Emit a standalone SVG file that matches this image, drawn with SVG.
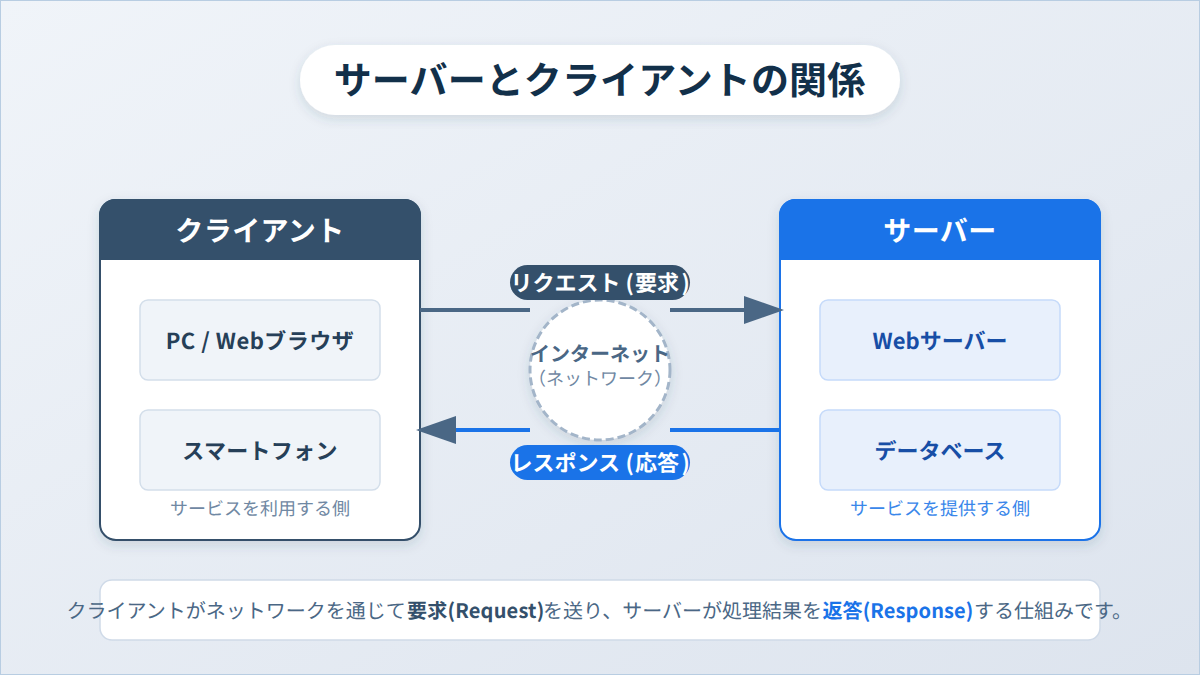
<svg xmlns="http://www.w3.org/2000/svg" width="1200" height="675" viewBox="0 0 1200 675">
<style>
text{font-family:"Noto Sans CJK JP",sans-serif;text-anchor:middle;text-rendering:geometricPrecision}
.b{font-weight:700}
.item{font-size:22px;font-weight:700}
.head{font-size:28px;font-weight:700;fill:#fff;letter-spacing:.4px}
.sub{font-size:18px}
.pill{font-size:22px;font-weight:700;fill:#fff;text-anchor:start}
.st{text-anchor:start}
.c{fill:#f0f4f9;stroke:#d3deea;stroke-width:1.5}
.s{fill:#e8f0fc;stroke:#c5dafa;stroke-width:1.5}
</style>
<defs>
<linearGradient id="bg" x1="0" y1="0" x2="1" y2="1"><stop offset="0" stop-color="#f0f4f9"/><stop offset="1" stop-color="#dde4ee"/></linearGradient>
<filter id="sh" x="-20%" y="-20%" width="140%" height="140%"><feDropShadow dx="0" dy="4" stdDeviation="6" flood-color="#34495e" flood-opacity=".15"/></filter>
<marker id="ah" markerUnits="userSpaceOnUse" markerWidth="40" markerHeight="28" refX="6" refY="14" orient="auto-start-reverse" overflow="visible"><path d="M0 0L40 14L0 28Z" fill="#4a6785"/></marker>
</defs>
<rect x="0.5" y="0.5" width="1199" height="674" fill="url(#bg)" stroke="#b8cde2"/>
<g id="title"><rect x="300" y="45" width="600" height="70" rx="35" fill="#fff" filter="url(#sh)"/><text x="599.5" y="94" font-size="38" class="b" fill="#12304a" letter-spacing=".1">サーバーとクライアントの関係</text></g>
<g id="client">
<rect x="100" y="200" width="320" height="340" rx="16" fill="#fff" stroke="#34506b" stroke-width="2" filter="url(#sh)"/>
<path d="M99 260V215a16 16 0 0 1 16-16H405a16 16 0 0 1 16 16V260Z" fill="#34506b"/>
<text x="260" y="241" class="head">クライアント</text>
<text x="260" y="515" class="sub" fill="#7088a3">サービスを利用する側</text>
</g>
<g id="client-pc"><rect x="140" y="300" width="240" height="80" rx="8" class="c"/><text x="260" y="349" class="item" fill="#263f58" letter-spacing=".5">PC / Webブラウザ</text></g>
<g id="client-phone"><rect x="140" y="410" width="240" height="80" rx="8" class="c"/><text x="260" y="459" class="item" fill="#263f58" letter-spacing=".3">スマートフォン</text></g>
<g id="server">
<rect x="780" y="200" width="320" height="340" rx="16" fill="#fff" stroke="#1a73e8" stroke-width="2" filter="url(#sh)"/>
<path d="M779 260V215a16 16 0 0 1 16-16H1085a16 16 0 0 1 16 16V260Z" fill="#1a73e8"/>
<text x="940" y="241" class="head">サーバー</text>
<text x="940" y="515" class="sub" fill="#3a87ea">サービスを提供する側</text>
</g>
<g id="server-web"><rect x="820" y="300" width="240" height="80" rx="8" class="s"/><text x="940" y="349" class="item" fill="#174ea6">Webサーバー</text></g>
<g id="server-db"><rect x="820" y="410" width="240" height="80" rx="8" class="s"/><text x="940" y="459" class="item" fill="#174ea6">データベース</text></g>
<g id="connectors">
<path d="M420 310H530" stroke="#4a6785" stroke-width="4" fill="none"/>
<path d="M670 310H750" stroke="#4a6785" stroke-width="4" fill="none" marker-end="url(#ah)"/>
<path d="M780 430H670" stroke="#1a73e8" stroke-width="4" fill="none"/>
<path d="M530 430H450" stroke="#1a73e8" stroke-width="4" fill="none" marker-end="url(#ah)"/>
</g>
<g id="internet"><circle cx="600" cy="370" r="70" fill="#fff" stroke="#a3b5c9" stroke-width="3" stroke-dasharray="8 4" filter="url(#sh)"/>
<text x="600" y="361" font-size="20" class="b" fill="#4a6785">インターネット</text>
<text x="600" y="385" font-size="18" fill="#7088a3">（ネットワーク）</text></g>
<g id="label-request"><rect x="510" y="265" width="180" height="35" rx="17.5" fill="#34506b"/><text x="510.5" y="291" class="pill">リクエスト<tspan x="625.5">(</tspan><tspan x="635">要求</tspan><tspan x="681.5">)</tspan></text></g>
<g id="label-response"><rect x="510" y="445" width="180" height="35" rx="17.5" fill="#1a73e8"/><text x="510.5" y="471" class="pill">レスポンス<tspan x="625.5">(</tspan><tspan x="635">応答</tspan><tspan x="681.5">)</tspan></text></g>
<g id="note"><rect x="100" y="580" width="1000" height="60" rx="12" fill="#fff" stroke="#cfdae8" stroke-width="1.5"/>
<text x="66.5" y="618" font-size="20" fill="#4a6785" class="st">クライアントがネットワークを通じて<tspan x="407" class="b" fill="#34506b" letter-spacing=".2">要求(Request)</tspan><tspan x="543">を送り、サーバーが処理結果を</tspan><tspan x="822.5" class="b" fill="#1a73e8" letter-spacing=".1">返答(Response)</tspan><tspan x="974">する仕組みです。</tspan></text></g>
</svg>
